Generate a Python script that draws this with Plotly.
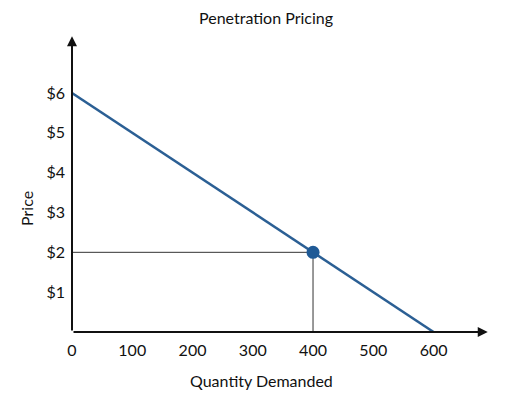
import plotly.graph_objects as go

demand_q = [0, 600]
demand_p = [6, 0]
point_q = [400]
point_p = [2]
x_ticks = [0, 100, 200, 300, 400, 500, 600]
x_tick_labels = ["0", "100", "200", "300", "400", "500", "600"]
y_ticks = [1, 2, 3, 4, 5, 6]
y_tick_labels = ["$1", "$2", "$3", "$4", "$5", "$6"]

FONT = "Lato, Open Sans, sans-serif"
BLUE = "#2b5f94"

fig = go.Figure()

# reference lines
fig.add_trace(go.Scatter(x=[0, point_q[0]], y=[point_p[0], point_p[0]], mode="lines",
                         line=dict(color="#333333", width=1), hoverinfo="skip", showlegend=False))
fig.add_trace(go.Scatter(x=[point_q[0], point_q[0]], y=[0, point_p[0]], mode="lines",
                         line=dict(color="#777777", width=1.5), hoverinfo="skip", showlegend=False))
# demand line
fig.add_trace(go.Scatter(x=demand_q, y=demand_p, mode="lines",
                         line=dict(color=BLUE, width=2.5), showlegend=False))
# point
fig.add_trace(go.Scatter(x=point_q, y=point_p, mode="markers",
                         marker=dict(color="#1f5a96", size=13), showlegend=False))

# axes with arrows
fig.add_annotation(x=0, y=7.42, ax=0, ay=0, xref="x", yref="y", axref="x", ayref="y",
                   showarrow=True, arrowhead=2, arrowsize=1, arrowwidth=2, arrowcolor="#111111", text="")
fig.add_annotation(x=690, y=0, ax=0, ay=0, xref="x", yref="y", axref="x", ayref="y",
                   showarrow=True, arrowhead=2, arrowsize=1, arrowwidth=2, arrowcolor="#111111", text="")

# axis titles
fig.add_annotation(text="Price", xref="paper", yref="paper", x=-0.11, y=0.41,
                   textangle=-90, showarrow=False, xanchor="center", yanchor="middle",
                   font=dict(family=FONT, size=16, color="#111111"))
fig.add_annotation(text="Quantity Demanded", xref="paper", yref="paper", x=0.452, y=-0.159,
                   showarrow=False, xanchor="center", yanchor="middle",
                   font=dict(family=FONT, size=16, color="#111111"))

fig.update_layout(
    width=504, height=388,
    margin=dict(l=64, r=20, t=22, b=64),
    paper_bgcolor="white", plot_bgcolor="white",
    font=dict(family=FONT, size=16, color="#111111"),
    title=dict(text="Penetration Pricing", x=0.512, xanchor="center", y=0.974, yanchor="middle",
               font=dict(family=FONT, size=16, color="#111111")),
)
fig.update_xaxes(range=[0, 697], tickvals=x_ticks, ticktext=x_tick_labels, showgrid=False,
                 zeroline=False, showline=False, ticks="", ticklabelstandoff=7, automargin=False)
fig.update_yaxes(range=[0, 7.58], tickvals=y_ticks, ticktext=y_tick_labels, showgrid=False,
                 zeroline=False, showline=False, ticks="", ticklabelstandoff=6, automargin=False)

fig.write_html("out.html")
